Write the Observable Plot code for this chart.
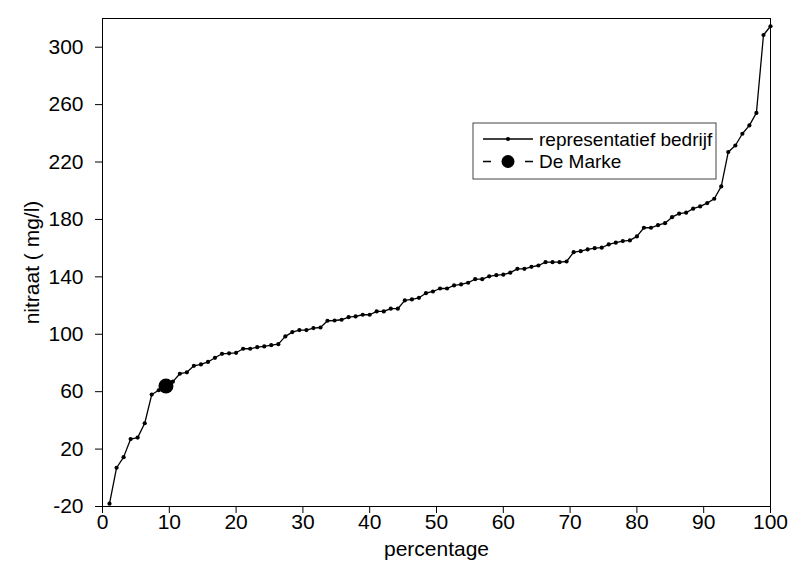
<!DOCTYPE html>
<html>
<head>
<meta charset="utf-8">
<script src="https://cdn.jsdelivr.net/npm/d3@7"></script>
<script src="https://cdn.jsdelivr.net/npm/@observablehq/plot@0.6"></script>
<style>
  html, body { margin: 0; padding: 0; background: #fff; }
  #chart { width: 788px; height: 569px; }
</style>
</head>
<body>
<div id="chart"></div>
<script>
// Cumulative percentage of farms (x) and nitrate concentration (y)
const percentage = [1.05, 2.11, 3.16, 4.21, 5.26, 6.32, 7.37, 8.42, 9.47, 10.53,
  11.58, 12.63, 13.68, 14.74, 15.79, 16.84, 17.89, 18.95, 20.00, 21.05,
  22.11, 23.16, 24.21, 25.26, 26.32, 27.37, 28.42, 29.47, 30.53, 31.58,
  32.63, 33.68, 34.74, 35.79, 36.84, 37.89, 38.95, 40.00, 41.05, 42.11,
  43.16, 44.21, 45.26, 46.32, 47.37, 48.42, 49.47, 50.53, 51.58, 52.63,
  53.68, 54.74, 55.79, 56.84, 57.89, 58.95, 60.00, 61.05, 62.11, 63.16,
  64.21, 65.26, 66.32, 67.37, 68.42, 69.47, 70.53, 71.58, 72.63, 73.68,
  74.74, 75.79, 76.84, 77.89, 78.95, 80.00, 81.05, 82.11, 83.16, 84.21,
  85.26, 86.32, 87.37, 88.42, 89.47, 90.53, 91.58, 92.63, 93.68, 94.74,
  95.79, 96.84, 97.89, 98.95, 100.00];
const nitraat = [-18, 7, 14.4, 27, 28, 38, 58, 61, 63, 67,
  72.5, 73.5, 78, 79, 80.7, 83.6, 86.4, 86.7, 87.1, 89.9,
  89.9, 91, 91.5, 92.4, 93.1, 98.5, 101.5, 102.9, 102.9, 104.3,
  104.7, 109.4, 109.6, 110.1, 111.9, 112.4, 113.6, 113.6, 115.9, 115.9,
  117.8, 117.8, 123.6, 124.3, 125.4, 128.6, 129.8, 131.9, 131.9, 134,
  134.7, 135.9, 138.4, 138.4, 140.4, 141.2, 141.5, 142.9, 145.6, 145.6,
  147, 147.9, 150.2, 150.2, 150.2, 150.7, 157.2, 157.9, 159.1, 160,
  160.3, 162.6, 163.8, 164.9, 165.4, 168.2, 174.2, 174.2, 176, 177.4,
  181.6, 184, 184.7, 187.5, 189.1, 191.4, 194.4, 203, 227, 231.5,
  239.7, 245.5, 254.2, 308.5, 314.6];
const deMarkeX = [9.5];
const deMarkeY = [64];
const xTicks = [0, 10, 20, 30, 40, 50, 60, 70, 80, 90, 100];
const yTicks = [-20, 20, 60, 100, 140, 180, 220, 260, 300];
const seriesNames = ["representatief bedrijf", "De Marke"];

const rep = percentage.map((p, i) => ({x: p, y: nitraat[i]}));
const dm = deMarkeX.map((p, i) => ({x: p, y: deMarkeY[i]}));

const font = "'Liberation Sans', Arial, Helvetica, sans-serif";

const chart = Plot.plot({
  width: 788,
  height: 569,
  marginLeft: 102,
  marginRight: 18,
  marginTop: 18,
  marginBottom: 63,
  style: {fontFamily: font, fontSize: "21px", color: "#000", background: "#fff"},
  x: {domain: [0, 100]},
  y: {domain: [-20, 320]},
  marks: [
    Plot.frame({stroke: "#000", strokeWidth: 1}),
    Plot.axisX({ticks: xTicks, tickFormat: d => String(d), tickSize: 7, tickPadding: 1, fontSize: 21, label: "percentage", labelAnchor: "center", labelArrow: "none", labelOffset: 49}),
    Plot.axisY({ticks: yTicks, tickFormat: d => String(d), tickSize: 7, tickPadding: 12, fontSize: 21, label: "nitraat ( mg/l)", labelAnchor: "center", labelArrow: "none", labelOffset: 78}),
    Plot.line(rep, {x: "x", y: "y", stroke: "#000", strokeWidth: 1.3}),
    Plot.dot(rep, {x: "x", y: "y", r: 2.1, fill: "#000"}),
    Plot.line(dm, {x: "x", y: "y", stroke: "#000", strokeDasharray: "8,4"}),
    Plot.dot(dm, {x: "x", y: "y", r: 7.5, fill: "#000"})
  ]
});
document.getElementById("chart").appendChild(chart);

// Legend (drawn inside the SVG)
const svg = d3.select(chart);
const lg = svg.append("g").attr("font-family", font).attr("font-size", 19).attr("text-anchor", "start");
lg.append("rect").attr("x", 473).attr("y", 123).attr("width", 243).attr("height", 56)
  .attr("fill", "#fff").attr("stroke", "#444").attr("stroke-width", 1);
// row 1
lg.append("line").attr("x1", 483).attr("x2", 533).attr("y1", 139).attr("y2", 139)
  .attr("stroke", "#000").attr("stroke-width", 1.3);
lg.append("circle").attr("cx", 508).attr("cy", 139).attr("r", 2.1).attr("fill", "#000");
lg.append("text").attr("x", 539).attr("y", 139).attr("dy", "0.35em").attr("text-anchor", "start").text(seriesNames[0]);
// row 2
lg.append("line").attr("x1", 483).attr("x2", 533).attr("y1", 161.5).attr("y2", 161.5)
  .attr("stroke", "#000").attr("stroke-width", 1.3).attr("stroke-dasharray", "8,34");
lg.append("circle").attr("cx", 508).attr("cy", 161.5).attr("r", 6.5).attr("fill", "#000");
lg.append("text").attr("x", 539).attr("y", 161.5).attr("dy", "0.35em").attr("text-anchor", "start").text(seriesNames[1]);
</script>
</body>
</html>
